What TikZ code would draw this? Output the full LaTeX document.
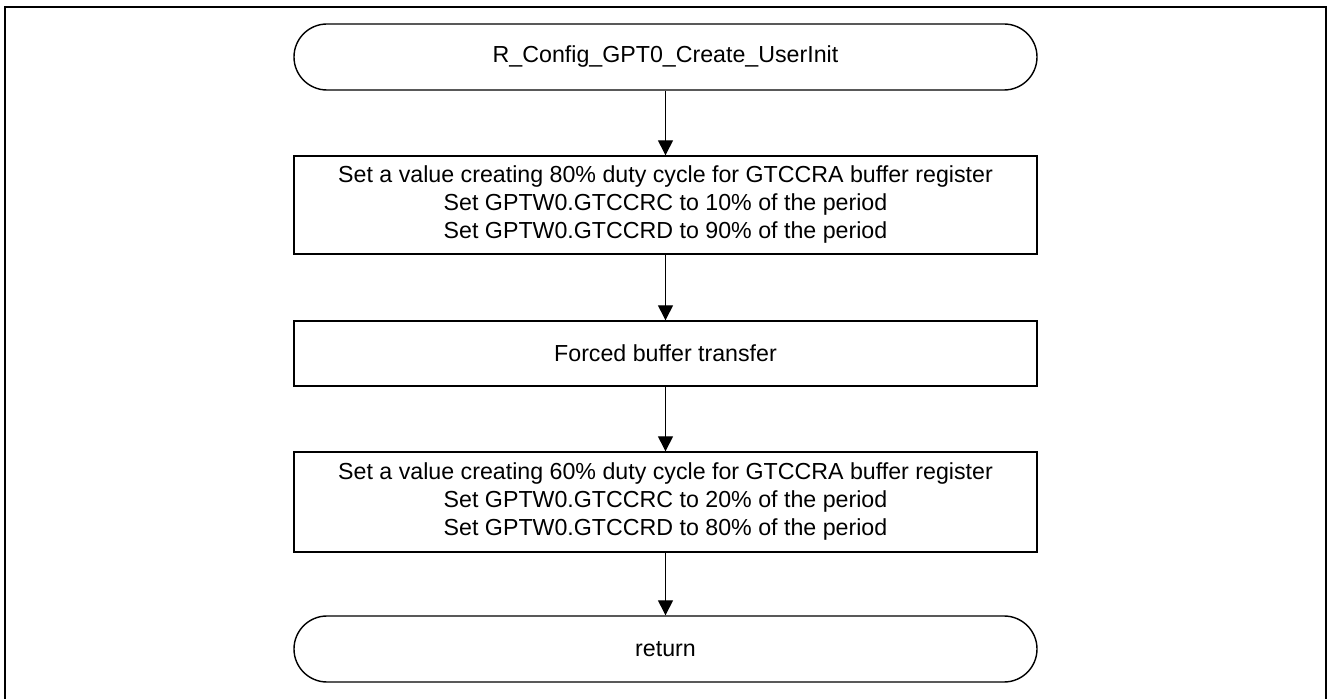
\documentclass[tikz,border=0pt]{standalone}
\usepackage{fontspec}
\setmainfont{Liberation Sans}
\usetikzlibrary{arrows.meta}

\begin{document}
\begin{tikzpicture}[x=0.5pt,y=-0.5pt,
  box/.style={draw,line width=0.7pt,minimum width=371.5pt,align=center,font=\fontsize{11.6}{14}\selectfont},
  term/.style={box,minimum height=33pt,rounded corners=16.5pt},
  flow/.style={-{Triangle[length=7.5pt,width=7.5pt]},line width=0.7pt}]
\useasboundingbox (0,0) rectangle (1328,699);
\draw[line width=1.3pt] (5,699) -- (5,7) -- (1326,7) -- (1326,699);
\node[term] (start) at (665.5,57) {R\_Config\_GPT0\_Create\_UserInit};
\node[box,minimum height=49pt] (dutyA) at (665.5,205) {Set a value creating 80\% duty cycle for GTCCRA buffer register\\Set GPTW0.GTCCRC to 10\% of the period\\Set GPTW0.GTCCRD to 90\% of the period};
\node[box,minimum height=32.5pt] (force) at (665.5,353.5) {Forced buffer transfer};
\node[box,minimum height=50pt] (dutyB) at (665.5,502) {Set a value creating 60\% duty cycle for GTCCRA buffer register\\Set GPTW0.GTCCRC to 20\% of the period\\Set GPTW0.GTCCRD to 80\% of the period};
\node[term] (ret) at (665.5,649) {return};
\foreach \a/\b in {start/dutyA,dutyA/force,force/dutyB,dutyB/ret}{\draw[flow] (\a) -- (\b);}
\end{tikzpicture}
\end{document}
